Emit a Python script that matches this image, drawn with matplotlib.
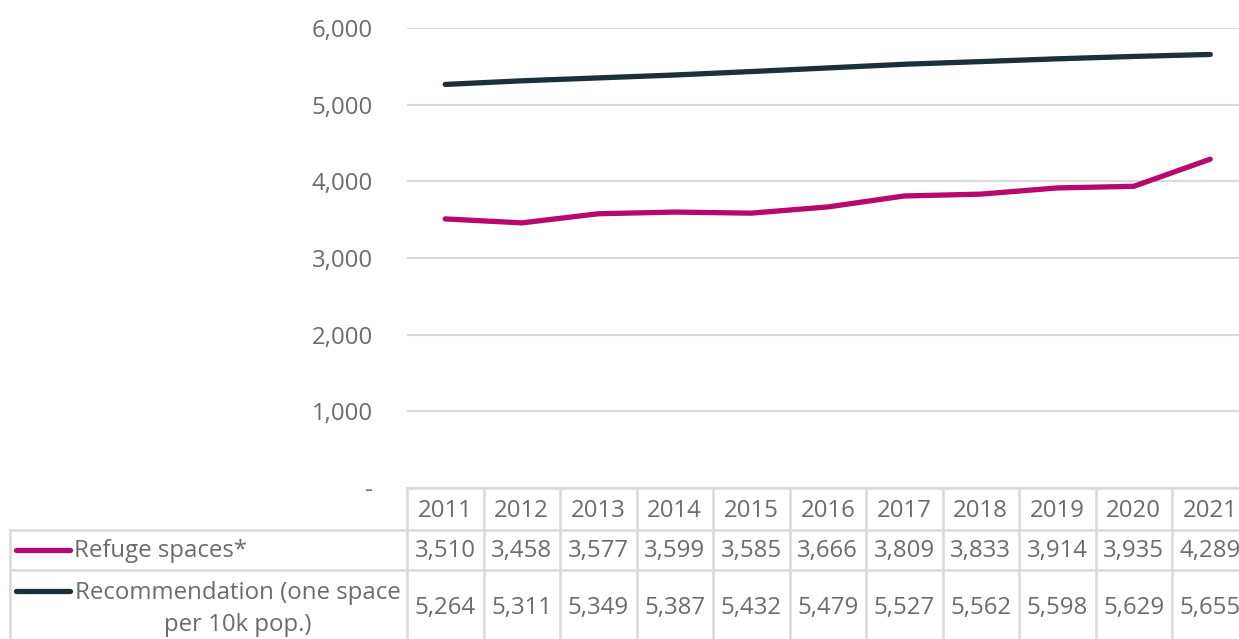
import numpy as np
import matplotlib.pyplot as plt
from matplotlib.ticker import FuncFormatter

plt.rcParams['font.family'] = ['Open Sans', 'DejaVu Sans']

# Данные
years = ['2011', '2012', '2013', '2014', '2015', '2016', '2017', '2018', '2019', '2020', '2021']
refuge = [3510, 3458, 3577, 3599, 3585, 3666, 3809, 3833, 3914, 3935, 4289]
recommendation = [5264, 5311, 5349, 5387, 5432, 5479, 5527, 5562, 5598, 5629, 5655]
series_names = ['Refuge spaces*', 'Recommendation (one space\nper 10k pop.)']

pink = '#b5096e'
dark = '#1e2f37'
grey_txt = '#6b6b6b'
grid_c = '#d9d9d9'

W, H = 1239, 639
fig = plt.figure(figsize=(W / 100, H / 100), dpi=100)

# основная область графика (в пикселях исходной картинки)
left_px, col_w = 407, 76.5
ncol = len(years)
right_px = left_px + ncol * col_w
top_px, bottom_px = 28, 488
ax = fig.add_axes([left_px / W, (H - bottom_px) / H,
                   (right_px - left_px) / W, (bottom_px - top_px) / H])

fs = 17.3

x = np.arange(ncol)
ax.plot(x, refuge, color=pink, lw=3.8, solid_capstyle='round')
ax.plot(x, recommendation, color=dark, lw=3.8, solid_capstyle='round')

ax.set_xlim(-0.5, ncol - 0.5)
ax.set_ylim(0, 6000)
ax.set_yticks(range(0, 6001, 1000))
ax.yaxis.set_major_formatter(FuncFormatter(lambda v, p: '-' if v == 0 else f'{int(v):,}'))
ax.tick_params(axis='y', length=0, pad=24.5, labelsize=fs, labelcolor=grey_txt)
ax.set_xticks([])
ax.grid(axis='y', color=grid_c, lw=1.5)
ax.set_axisbelow(True)
for s in ax.spines.values():
    s.set_visible(False)

# таблица данных под графиком
tab = fig.add_axes([0, 0, 1, 1])
tab.set_xlim(0, W)
tab.set_ylim(H, 0)
tab.axis('off')
tab.patch.set_alpha(0)

lk = dict(color=grid_c, lw=1.8)
edges = [left_px + i * col_w for i in range(ncol + 1)]
tab.plot([left_px, W], [488, 488], **lk)
tab.plot([10, W], [530, 530], **lk)
tab.plot([10, W], [570, 570], **lk)
tab.plot([10, 10], [530, H], **lk)
for e in edges:
    tab.plot([e, e], [488, H], **lk)

centers = [left_px + (i + 0.5) * col_w for i in range(ncol)]
for i, c in enumerate(centers):
    tab.text(c, 511, years[i], ha='center', va='center', fontsize=fs, color=grey_txt)
    tab.text(c, 551, f'{refuge[i]:,}', ha='center', va='center', fontsize=fs, color=grey_txt)
    tab.text(c, 608, f'{recommendation[i]:,}', ha='center', va='center', fontsize=fs, color=grey_txt)

# ключи легенды
tab.plot([16, 70], [550, 550], color=pink, lw=3.8, solid_capstyle='round')
tab.plot([16, 70], [591, 591], color=dark, lw=3.8, solid_capstyle='round')
tab.text(74, 551, series_names[0], ha='left', va='center', fontsize=fs, color=grey_txt)
tab.text(237.5, 609, series_names[1], ha='center', va='center', fontsize=fs,
         color=grey_txt, multialignment='center', linespacing=1.42)

plt.savefig('out.png', dpi=100)
